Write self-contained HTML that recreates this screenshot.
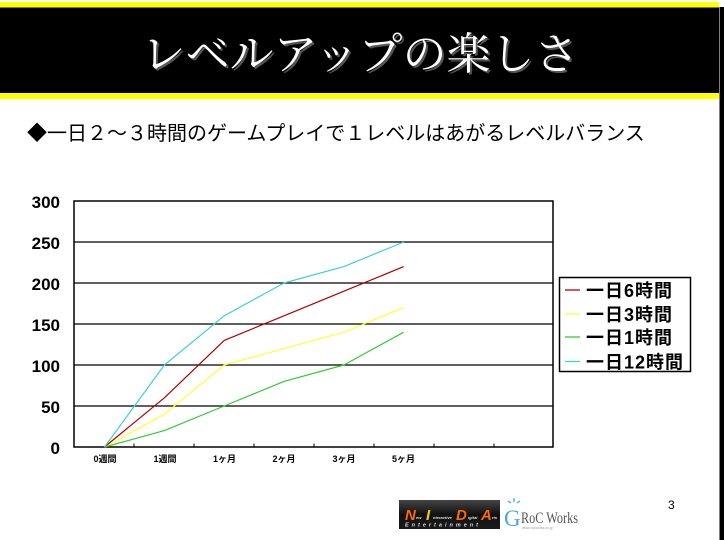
<!DOCTYPE html>
<html>
<head>
<meta charset="utf-8">
<style>
html,body{margin:0;padding:0;background:#fff;}
body{width:724px;height:540px;overflow:hidden;position:relative;}
svg{display:block;}
</style>
</head>
<body>
<svg width="724" height="540" viewBox="0 0 724 540" xmlns="http://www.w3.org/2000/svg">
  <!-- title band -->
  <rect x="0" y="2" width="719" height="5.5" fill="#ffff00"/>
  <rect x="0" y="7.5" width="719" height="85.5" fill="#000"/>
  <rect x="0" y="93" width="719" height="6" fill="#ffff00"/>
  <!-- right black bar -->
  <rect x="719.5" y="7" width="4.5" height="533" fill="#000"/>

  <text x="362" y="71" text-anchor="middle" font-family="'Liberation Serif','Noto Serif CJK JP',serif" font-size="44" fill="#555">レベルアップの楽しさ</text>
  <text x="360" y="69" text-anchor="middle" font-family="'Liberation Serif','Noto Serif CJK JP',serif" font-size="44" fill="#fff">レベルアップの楽しさ</text>

  <!-- subtitle -->
  <text x="27" y="140" font-family="'Liberation Sans','Noto Sans CJK JP',sans-serif" font-size="20" fill="#000">◆一日２～３時間のゲームプレイで１レベルはあがるレベルバランス</text>

  <!-- plot area -->
  <rect x="74" y="201" width="479" height="246" fill="#fff" stroke="#000" stroke-width="1.5"/>
  <g stroke="#000" stroke-width="1.3">
    <line x1="74" y1="242" x2="553" y2="242"/>
    <line x1="74" y1="283" x2="553" y2="283"/>
    <line x1="74" y1="324" x2="553" y2="324"/>
    <line x1="74" y1="365" x2="553" y2="365"/>
    <line x1="74" y1="406" x2="553" y2="406"/>
  </g>
  <g stroke="#000" stroke-width="1">
    <line x1="134" y1="443.5" x2="134" y2="447"/>
    <line x1="194" y1="443.5" x2="194" y2="447"/>
    <line x1="254" y1="443.5" x2="254" y2="447"/>
    <line x1="314" y1="443.5" x2="314" y2="447"/>
    <line x1="374" y1="443.5" x2="374" y2="447"/>
    <line x1="434" y1="443.5" x2="434" y2="447"/>
    <line x1="494" y1="443.5" x2="494" y2="447"/>
  </g>

  <!-- y labels -->
  <g font-family="'Liberation Sans',sans-serif" font-size="17" font-weight="bold" fill="#000" text-anchor="end">
    <text x="60" y="208">300</text>
    <text x="60" y="249">250</text>
    <text x="60" y="290">200</text>
    <text x="60" y="331">150</text>
    <text x="60" y="372">100</text>
    <text x="60" y="413">50</text>
    <text x="60" y="454">0</text>
  </g>

  <!-- x labels -->
  <g font-family="'Liberation Sans','Noto Sans CJK JP',sans-serif" font-size="9" font-weight="bold" fill="#000" text-anchor="middle">
    <text x="105" y="462">0週間</text>
    <text x="165" y="462">1週間</text>
    <text x="224.5" y="462">1ヶ月</text>
    <text x="284" y="462">2ヶ月</text>
    <text x="344" y="462">3ヶ月</text>
    <text x="403.5" y="462">5ヶ月</text>
  </g>

  <!-- series -->
  <g fill="none" stroke-width="1.2" stroke-linejoin="round">
    <polyline stroke="#33cc33" points="104.5,447 164.4,430.6 224.2,406 284,381.4 343.9,365 403.7,332.2"/>
    <polyline stroke="#ffff33" points="104.5,447 164.4,414.2 224.2,365 284,348.6 343.9,332.2 403.7,307.6"/>
    <polyline stroke="#b00000" points="104.5,447 164.4,397.8 224.2,340.4 284,315.8 343.9,291.2 403.7,266.6"/>
    <polyline stroke="#40d0d8" points="104.5,447 164.4,365 224.2,315.8 284,283 343.9,266.6 403.7,242"/>
  </g>

  <!-- legend -->
  <rect x="559.5" y="277.5" width="131" height="94" fill="#fff" stroke="#000" stroke-width="1.5"/>
  <g stroke-width="1.3">
    <line x1="565" y1="290" x2="580" y2="290" stroke="#b00000"/>
    <line x1="565" y1="314" x2="580" y2="314" stroke="#ffff33"/>
    <line x1="565" y1="337" x2="580" y2="337" stroke="#33cc33"/>
    <line x1="565" y1="361.5" x2="580" y2="361.5" stroke="#40d0d8"/>
  </g>
  <g font-family="'Liberation Sans','Noto Sans CJK JP',sans-serif" font-size="18" font-weight="bold" fill="#000" letter-spacing="1">
    <text x="586" y="297">一日6時間</text>
    <text x="586" y="321">一日3時間</text>
    <text x="586" y="344">一日1時間</text>
    <text x="586" y="368.5">一日12時間</text>
  </g>

  <!-- NIDA logo -->
  <defs>
    <linearGradient id="nidag" x1="0" y1="0" x2="0" y2="1">
      <stop offset="0" stop-color="#444"/>
      <stop offset="0.5" stop-color="#111"/>
      <stop offset="1" stop-color="#1a1a1a"/>
    </linearGradient>
  </defs>
  <rect x="399" y="500" width="101" height="29" fill="url(#nidag)"/>
  <g font-family="'Liberation Sans',sans-serif" font-weight="bold" font-style="italic">
    <text x="405" y="520" font-size="15" fill="#ff6a00">N</text>
    <text x="426" y="520" font-size="15" fill="#ffcc00">I</text>
    <text x="456" y="520" font-size="15" fill="#ff6a00">D</text>
    <text x="481" y="520" font-size="15" fill="#ff6a00">A</text>
    <text x="416" y="519" font-size="4" fill="#ddd">ew</text>
    <text x="433" y="519" font-size="4" fill="#ddd">nteractive</text>
    <text x="468" y="519" font-size="4" fill="#ddd">igital</text>
    <text x="492" y="519" font-size="4" fill="#ddd">rts</text>
    <text x="405" y="526.5" font-size="5.5" fill="#ddd" letter-spacing="3">Entertainment</text>
  </g>

  <!-- RoC Works logo -->
  <g stroke="#5ab4e0" stroke-width="1.5" fill="none">
    <line x1="514" y1="498" x2="514" y2="502"/>
    <line x1="508" y1="501" x2="511" y2="503"/>
    <line x1="520" y1="501" x2="517" y2="503"/>
  </g>
  <text x="504" y="526" font-family="'Liberation Serif',serif" font-size="23" fill="#4aa8d8">G</text>
  <text x="521" y="523" font-family="'Liberation Serif',serif" font-size="16" fill="#555" textLength="57" lengthAdjust="spacingAndGlyphs">RoC Works</text>
  <text x="522" y="529" font-family="'Liberation Sans',sans-serif" font-size="3.5" fill="#999">www.rocworks.co.jp</text>

  <!-- page number -->
  <text x="668" y="509" font-family="'Liberation Sans',sans-serif" font-size="12" fill="#000">3</text>
</svg>
</body>
</html>
